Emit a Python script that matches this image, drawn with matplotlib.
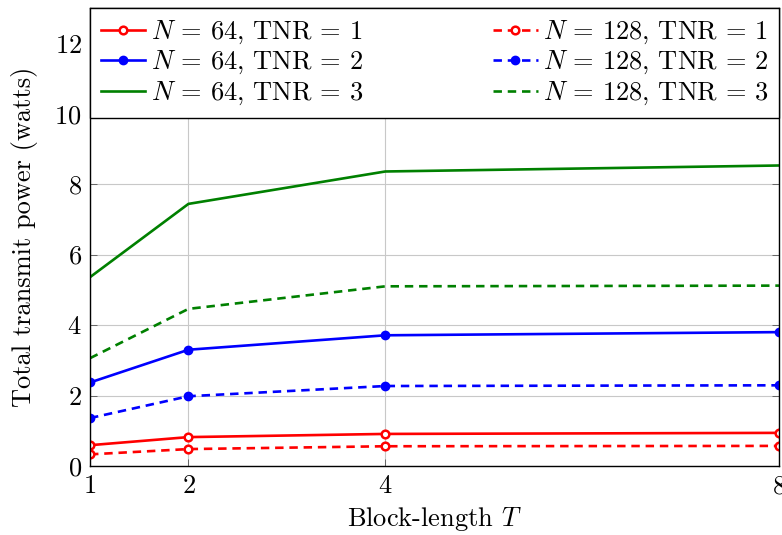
import matplotlib
matplotlib.use('Agg')
import matplotlib.pyplot as plt

plt.rcParams['font.family'] = 'cmr10'
plt.rcParams['mathtext.fontset'] = 'cm'
plt.rcParams['axes.formatter.use_mathtext'] = True
plt.rcParams['font.size'] = 19

# block length T
T = [1, 2, 4, 8]

# total transmit power
p64_tnr1 = [0.59, 0.82, 0.91, 0.94]
p64_tnr2 = [2.37, 3.30, 3.71, 3.80]
p64_tnr3 = [5.36, 7.44, 8.36, 8.53]
p128_tnr1 = [0.33, 0.48, 0.56, 0.57]
p128_tnr2 = [1.36, 1.98, 2.27, 2.29]
p128_tnr3 = [3.06, 4.46, 5.10, 5.12]

xticks = [1, 2, 4, 8]
yticks = [0, 2, 4, 6, 8, 10, 12]

fig = plt.figure(figsize=(7.82, 5.35), dpi=100)
ax = fig.add_axes([0.1151, 0.129, 0.8811, 0.856])

lw = 1.9
dash = (3.2, 2.2)
ax.plot(T, p64_tnr1, color='red', lw=lw, marker='o', ms=5.5, mfc='white', mew=1.8,
        label=r'$N$ = 64, TNR = 1')
ax.plot(T, p64_tnr2, color='blue', lw=lw, marker='o', ms=6,
        label=r'$N$ = 64, TNR = 2')
ax.plot(T, p64_tnr3, color='green', lw=lw,
        label=r'$N$ = 64, TNR = 3')
ax.plot(T, p128_tnr1, color='red', lw=lw, dashes=dash, marker='o', ms=5.5, mfc='white', mew=1.8,
        label=r'$N$ = 128, TNR = 1')
ax.plot(T, p128_tnr2, color='blue', lw=lw, dashes=dash, marker='o', ms=6,
        label=r'$N$ = 128, TNR = 2')
ax.plot(T, p128_tnr3, color='green', lw=lw, dashes=dash,
        label=r'$N$ = 128, TNR = 3')

ax.set_xlim(1, 8)
ax.set_ylim(0, 13)
ax.set_xticks(xticks)
ax.set_yticks(yticks)
ax.grid(True, color='#c8c8c8', lw=0.8)
ax.set_axisbelow(True)
ax.tick_params(direction='in', top=True, right=True, length=5, width=0.6, color='#555555', pad=6)
for s in ax.spines.values():
    s.set_linewidth(1.0)

ax.set_xlabel(r'Block-length $T$', labelpad=5)
ax.set_ylabel('Total transmit power (watts)', labelpad=12)

leg = ax.legend(ncol=2, loc='upper left', bbox_to_anchor=(0, 0, 1, 1), mode='expand',
                borderaxespad=0, fancybox=False, framealpha=1, edgecolor='black',
                handlelength=1.7, handletextpad=0.2, labelspacing=0.12, borderpad=0.4,
                columnspacing=1.0)
leg.get_frame().set_linewidth(1.0)

fig.savefig('out.png', dpi=100)
